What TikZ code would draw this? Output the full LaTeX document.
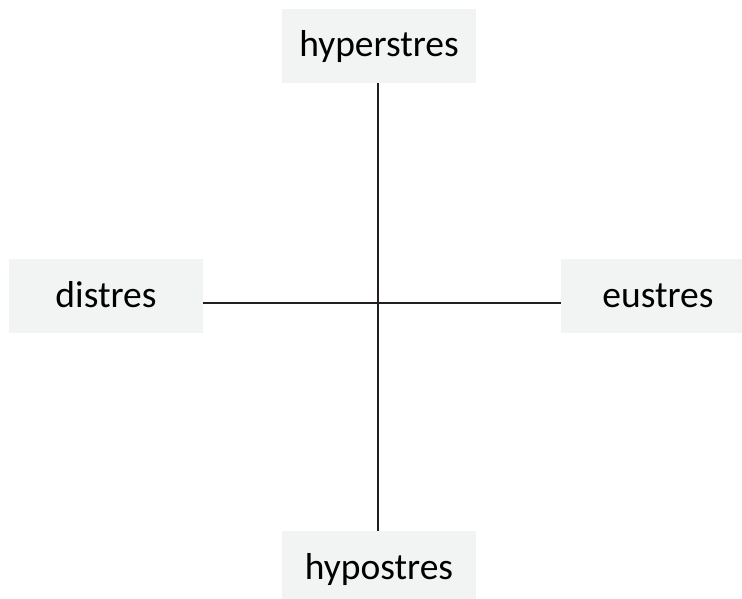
\documentclass[tikz,border=0pt]{standalone}
\usepackage{fontspec}
\setmainfont{Carlito}
\definecolor{boxfill}{RGB}{242,243,243}
\definecolor{linecol}{RGB}{35,31,32}
\begin{document}
\begin{tikzpicture}[x=1pt,y=1pt,
  termbox/.style={fill=boxfill, draw=none, inner sep=0pt, minimum width=194pt, minimum height=74pt,
    text height=28pt, text depth=6pt, font=\fontsize{37.5}{44}\selectfont},
  axis/.style={draw=linecol, line width=2pt}]
\clip (0,0) rectangle (742,-599);
\node[termbox] (hyper) at (379,-46) {hyperstres};
\node[termbox] (distres) at (106,-296) {distres};
\node[termbox] (eustres) at (658,-296) {eustres};
\node[termbox] (hypo) at (379,-568) {hypostres};
\coordinate (c) at (377.5,-302.5);
\draw[axis] (hyper.south -| c) -- (hypo.north -| c);
\draw[axis] (distres.east |- c) -- (eustres.west |- c);
\end{tikzpicture}
\end{document}
